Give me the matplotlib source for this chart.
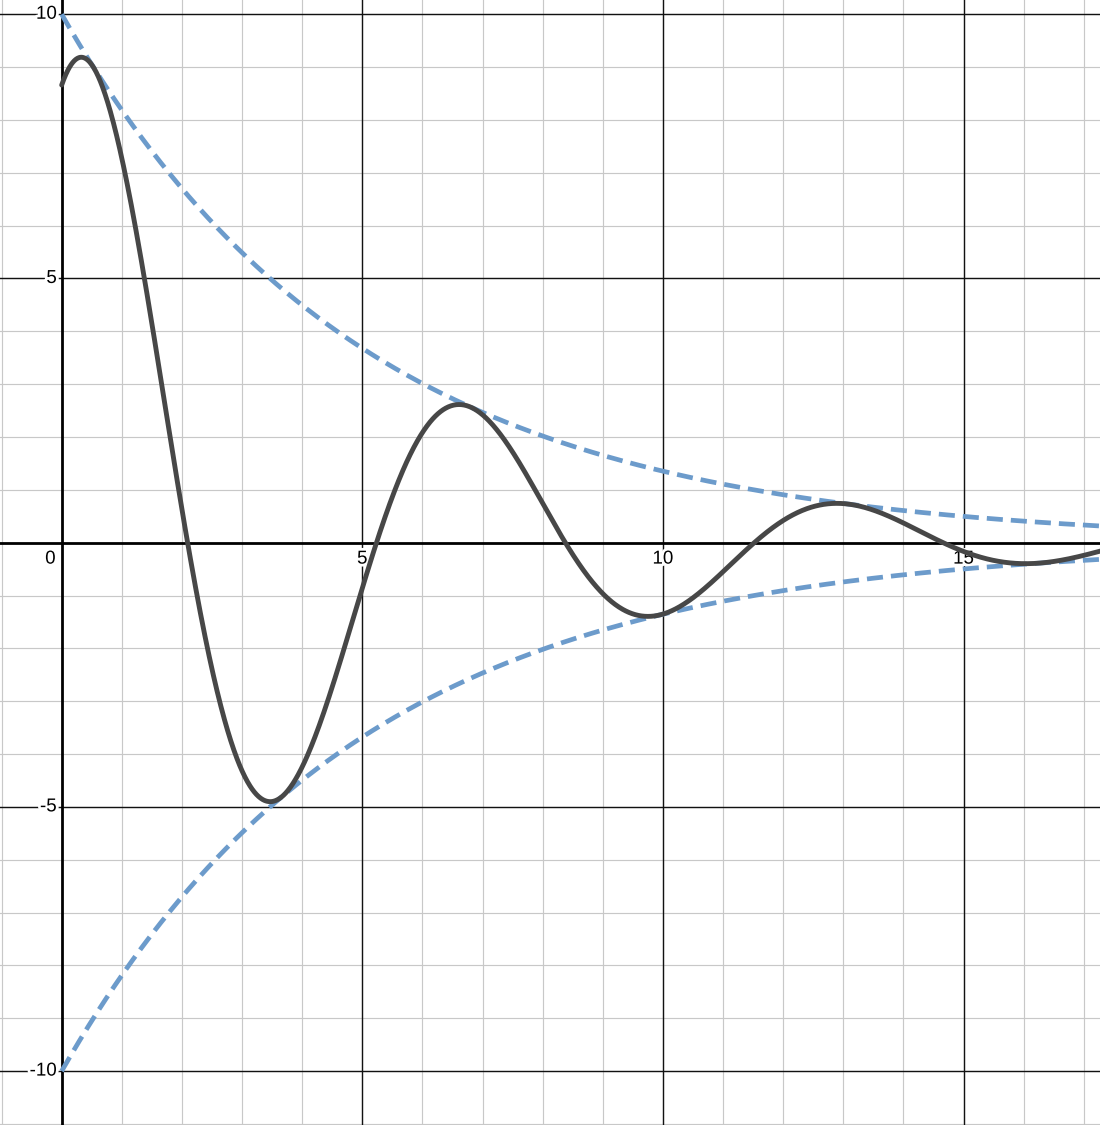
import numpy as np
import matplotlib
matplotlib.use("Agg")
import matplotlib.pyplot as plt
import matplotlib.patheffects as pe

# Function parameters: y = A * exp(-x/tau) * cos(w*x - phi)
amplitude = 10.0
decay_tau = 5.0
omega = 1.0
phase = np.pi / 6

x_range = (0.0, 17.4)
xlim = (-1.026, 17.27)
ylim = (-11.02, 10.27)

x_major = [5, 10, 15]
y_major = [-10, -5, 5, 10]
x_labels = ["5", "10", "15"]
y_labels = ["-10", "-5", "5", "10"]

fig = plt.figure(figsize=(11, 11.25), dpi=100)
ax = fig.add_axes([0, 0, 1, 1])
ax.set_xlim(*xlim)
ax.set_ylim(*ylim)
ax.axis("off")

# minor grid
for xv in range(-1, 18):
    ax.axvline(xv, color="#c8c8c8", lw=0.85, zorder=0)
for yv in range(-11, 11):
    ax.axhline(yv, color="#c8c8c8", lw=0.85, zorder=0)
# major grid
for xv in x_major:
    ax.axvline(xv, color="#111111", lw=1.0, zorder=1)
for yv in y_major:
    ax.axhline(yv, color="#111111", lw=1.0, zorder=1)
# axes
ax.axvline(0, color="black", lw=2.0, zorder=2)
ax.axhline(0, color="black", lw=2.0, zorder=2)

halo = [pe.withStroke(linewidth=4, foreground="white")]
fs = 13.5
for xv, lab in zip(x_major, x_labels):
    ax.text(xv, -0.15, lab, ha="center", va="top", fontsize=fs,
            family="Liberation Sans", path_effects=halo, zorder=3)
for yv, lab in zip(y_major, y_labels):
    ax.text(-0.08, yv, lab, ha="right", va="center", fontsize=fs,
            family="Liberation Sans", path_effects=halo, zorder=3)
ax.text(-0.1, -0.15, "0", ha="right", va="top", fontsize=fs,
        family="Liberation Sans", path_effects=halo, zorder=3)

x = np.linspace(x_range[0], x_range[1], 2000)
env = amplitude * np.exp(-x / decay_tau)
y = env * np.cos(omega * x - phase)

ax.plot(x, env, color="#6c9bcb", lw=3.4, ls=(0, (3.4, 1.7)), zorder=4,
        solid_capstyle="butt", dash_capstyle="butt")
ax.plot(x, -env, color="#6c9bcb", lw=3.4, ls=(0, (3.4, 1.7)), zorder=4,
        solid_capstyle="butt", dash_capstyle="butt")
ax.plot(x, y, color="#474747", lw=3.5, zorder=5, solid_capstyle="round")

fig.savefig("out.png", dpi=100)
